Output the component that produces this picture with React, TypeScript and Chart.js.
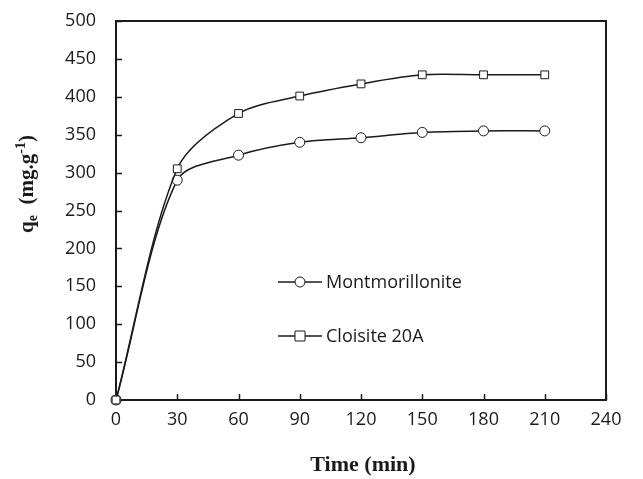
import React, { useEffect, useRef } from "react";
import { Chart, registerables } from "chart.js";

Chart.register(...registerables);

const timeMin = [0, 30, 60, 90, 120, 150, 180, 210];
const montmorillonite = [0, 290, 323, 340, 346, 353, 355, 355];
const cloisite20A = [0, 305, 378, 401, 417, 429, 429, 429];
const seriesNames = ["Montmorillonite", "Cloisite 20A"];
const xTicks = [0, 30, 60, 90, 120, 150, 180, 210, 240];
const yTicks = [0, 50, 100, 150, 200, 250, 300, 350, 400, 450, 500];

const TICK_FONT = "18px 'Open Sans'";

const framePlugin = {
  id: "frameAndLabels",
  beforeDatasetsDraw(chart: any) {
    const { ctx, chartArea: a, scales } = chart;
    const xs = scales.x;
    const ys = scales.y;
    ctx.save();
    ctx.strokeStyle = "#1a1a1a";
    ctx.lineWidth = 2;
    ctx.strokeRect(a.left, a.top, a.right - a.left, a.bottom - a.top);
    ctx.lineWidth = 1.5;
    ctx.beginPath();
    yTicks.forEach((v) => {
      const y = Math.round(ys.getPixelForValue(v)) + 0.5;
      ctx.moveTo(a.left, y);
      ctx.lineTo(a.left + 6, y);
    });
    xTicks.forEach((v) => {
      const x = Math.round(xs.getPixelForValue(v)) + 0.5;
      ctx.moveTo(x, a.bottom);
      ctx.lineTo(x, a.bottom - 6);
    });
    ctx.stroke();
    ctx.restore();
  },
  afterDraw(chart: any) {
    const { ctx } = chart;
    ctx.save();
    const legendItems = [
      { name: seriesNames[0], shape: "circle", y: 282 },
      { name: seriesNames[1], shape: "square", y: 336 },
    ];
    legendItems.forEach((it) => {
      ctx.strokeStyle = "#1a1a1a";
      ctx.lineWidth = 1.5;
      ctx.beginPath();
      ctx.moveTo(278, it.y);
      ctx.lineTo(322, it.y);
      ctx.stroke();
      ctx.fillStyle = "#fff";
      ctx.lineWidth = 1;
      ctx.beginPath();
      if (it.shape === "circle") {
        ctx.arc(300, it.y, 5, 0, Math.PI * 2);
      } else {
        ctx.rect(295, it.y - 5, 10, 10);
      }
      ctx.fill();
      ctx.stroke();
      ctx.fillStyle = "#1a1a1a";
      ctx.font = TICK_FONT;
      ctx.textAlign = "left";
      ctx.textBaseline = "middle";
      ctx.fillText(it.name, 326, it.y + 1);
    });

    ctx.fillStyle = "#1a1a1a";
    ctx.font = "bold 22px 'Liberation Serif'";
    ctx.textAlign = "center";
    ctx.textBaseline = "middle";
    ctx.fillText("Time (min)", 363, 465);

    ctx.translate(26, 184);
    ctx.rotate(-Math.PI / 2);
    ctx.textBaseline = "alphabetic";
    ctx.textAlign = "left";
    const big = "bold 21px 'Liberation Serif'";
    const small = "bold 14px 'Liberation Serif'";
    const parts = [
      { t: "q", f: big, dy: 0 },
      { t: "e", f: small, dy: 4 },
      { t: "  (mg.g", f: big, dy: 0 },
      { t: "-1", f: small, dy: -8 },
      { t: ")", f: big, dy: 0 },
    ];
    let total = 0;
    parts.forEach((p) => {
      ctx.font = p.f;
      total += ctx.measureText(p.t).width;
    });
    let x = -total / 2;
    parts.forEach((p) => {
      ctx.font = p.f;
      ctx.fillText(p.t, x, 7 + p.dy);
      x += ctx.measureText(p.t).width;
    });
    ctx.restore();
  },
};

export default function App() {
  const ref = useRef<HTMLCanvasElement>(null);
  useEffect(() => {
    if (!ref.current) return;
    const mk = (vals: number[]) => timeMin.map((t, i) => ({ x: t, y: vals[i] }));
    const common = {
      borderColor: "#1a1a1a",
      borderWidth: 1.5,
      backgroundColor: "#ffffff",
      pointBorderWidth: 1,
      pointBorderColor: "#1a1a1a",
      pointBackgroundColor: "#ffffff",
      tension: 0.3,
      clip: false as any,
    };
    const chart = new Chart(ref.current, {
      type: "line",
      data: {
        datasets: [
          {
            ...common,
            label: seriesNames[0],
            data: mk(montmorillonite),
            pointStyle: "circle",
            pointRadius: 5,
            order: 1,
          },
          {
            ...common,
            label: seriesNames[1],
            data: mk(cloisite20A),
            pointStyle: "rect",
            pointRadius: 5.5,
            order: 0,
          },
        ],
      },
      options: {
        animation: false,
        responsive: false,
        maintainAspectRatio: false,
        layout: { padding: { left: 0, right: 37, top: 21, bottom: 0 } },
        plugins: { legend: { display: false }, tooltip: { enabled: false } },
        scales: {
          x: {
            type: "linear",
            min: 0,
            max: 240,
            afterBuildTicks: (s: any) => {
              s.ticks = xTicks.map((v) => ({ value: v }));
            },
            afterFit: (s: any) => {
              s.height = 79;
              s.paddingLeft = 0;
              s.paddingRight = 0;
            },
            grid: { display: false, drawTicks: false },
            border: { display: false },
            ticks: {
              color: "#1a1a1a",
              font: { family: "'Open Sans'", size: 18 },
              padding: 9,
              maxRotation: 0,
              autoSkip: false,
            },
          },
          y: {
            type: "linear",
            min: 0,
            max: 500,
            afterBuildTicks: (s: any) => {
              s.ticks = yTicks.map((v) => ({ value: v }));
            },
            afterFit: (s: any) => {
              s.width = 116;
              s.paddingTop = 0;
              s.paddingBottom = 0;
            },
            grid: { display: false, drawTicks: false },
            border: { display: false },
            ticks: {
              color: "#1a1a1a",
              font: { family: "'Open Sans'", size: 18 },
              padding: 20,
              autoSkip: false,
            },
          },
        },
      },
      plugins: [framePlugin],
    });
    return () => chart.destroy();
  }, []);
  return (
    <div style={{ position: "fixed", left: 0, top: 0, width: 643, height: 479, background: "#fff" }}>
      <canvas ref={ref} width={643} height={479} style={{ width: 643, height: 479 }} />
    </div>
  );
}
